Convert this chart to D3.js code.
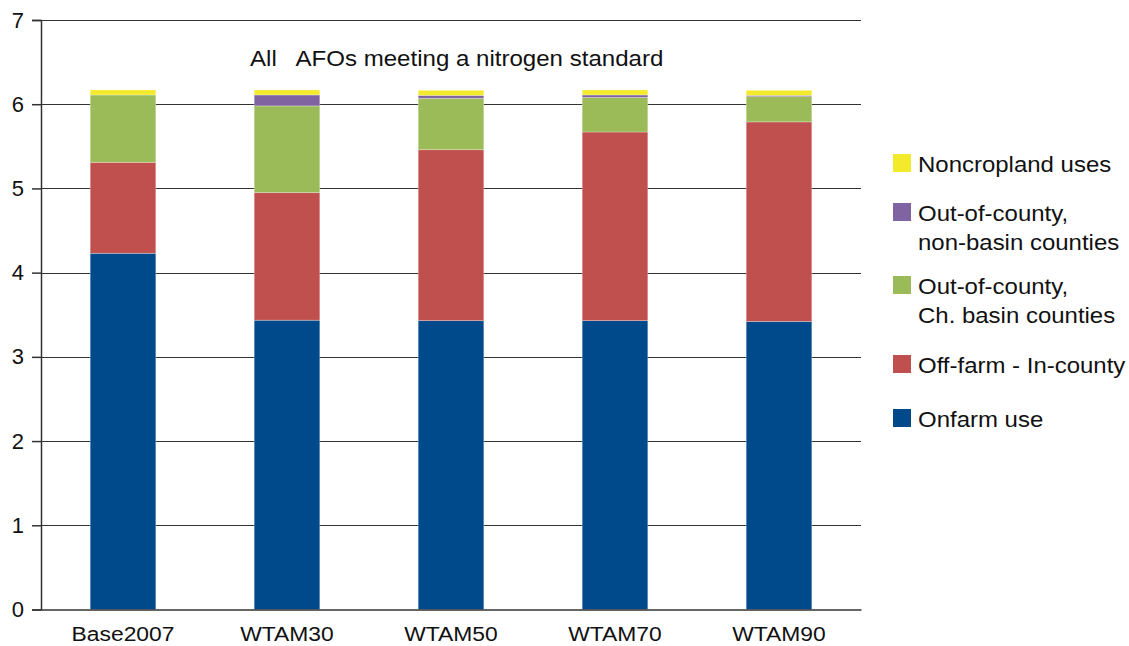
<!DOCTYPE html>
<html><head><meta charset="utf-8">
<script src="https://cdn.jsdelivr.net/npm/d3@7"></script>
<style>body{margin:0;background:#fff}svg{display:block;font-family:"Liberation Sans",Arial,Helvetica,sans-serif}</style>
</head><body><svg id="c" width="1129" height="646"></svg>
<script>
const categories = ["Base2007","WTAM30","WTAM50","WTAM70","WTAM90"];
const seriesNames = ["Onfarm use","Off-farm - In-county","Out-of-county, Ch. basin counties","Out-of-county, non-basin counties","Noncropland uses"];
const onfarm    = [4.23, 3.435, 3.43, 3.43, 3.42];
const offfarm   = [1.08, 1.515, 2.03, 2.24, 2.37];
const chBasin   = [0.80, 1.03, 0.61, 0.41, 0.30];
const nonBasin  = [0.00, 0.13, 0.035, 0.03, 0.015];
const noncrop   = [0.06, 0.06, 0.06, 0.06, 0.06];
const yTicks = [0,1,2,3,4,5,6,7];
const title = "All   AFOs meeting a nitrogen standard";
const colors = ["#004a8c","#c0504d","#9bbb59","#8064a2","#f3ea2b"];
const legendLines = [["Noncropland uses"],["Out-of-county,","non-basin counties"],["Out-of-county,","Ch. basin counties"],["Off-farm - In-county"],["Onfarm use"]];

const svg = d3.select("#c");
const x0 = 41, x1 = 861, yTop = 20, yBot = 609.5;
const x = d3.scaleBand().domain(categories).range([x0,x1]).paddingInner(0.6).paddingOuter(0.3);
const y = d3.scaleLinear().domain([0,7]).range([yBot,yTop]);

const rows = categories.map((c,i)=>({cat:c, s0:onfarm[i], s1:offfarm[i], s2:chBasin[i], s3:nonBasin[i], s4:noncrop[i]}));
const stack = d3.stack().keys(["s0","s1","s2","s3","s4"])(rows);

function stext(g, tx, ty, txt, size, sx, anchor){
  return g.append("text").attr("transform",`translate(${tx},${ty}) scale(${sx},1)`)
    .attr("font-size",size).attr("fill","#111").attr("text-anchor",anchor||"start")
    .style("white-space","pre").text(txt);
}

// gridlines
svg.append("g").selectAll("line").data(yTicks.filter(d=>d>0)).join("line")
  .attr("x1",x0).attr("x2",x1).attr("y1",d=>Math.round(y(d))+0.5).attr("y2",d=>Math.round(y(d))+0.5)
  .attr("stroke","#333").attr("stroke-width",1);

// bars
svg.append("g").selectAll("g").data(stack).join("g").attr("fill",(d,i)=>colors[i])
  .selectAll("rect").data(d=>d).join("rect")
  .attr("x",d=>x(d.data.cat)).attr("width",x.bandwidth())
  .attr("y",d=>y(d[1])).attr("height",d=>Math.max(0,y(d[0])-y(d[1])))
  .attr("stroke","rgba(255,255,255,0.35)").attr("stroke-width",0.8);

// y axis
const ya = svg.append("g").attr("transform",`translate(${x0},0)`)
  .call(d3.axisLeft(y).tickValues(yTicks).tickSize(9).tickPadding(8).tickFormat(d3.format("d")));
ya.select(".domain").attr("stroke","#333").attr("stroke-width",1.5);
ya.selectAll(".tick line").attr("stroke","#333").attr("stroke-width",1.5);
ya.selectAll("text").attr("font-size",22).attr("fill","#111").attr("font-family","Liberation Sans, Arial, sans-serif");

// x axis
const xa = svg.append("g").attr("transform",`translate(0,${yBot})`)
  .call(d3.axisBottom(x).tickSize(0).tickFormat(""));
xa.select(".domain").attr("stroke","#333").attr("stroke-width",1.5);
categories.forEach(c=>stext(svg, x(c)+x.bandwidth()/2, 640.5, c, 21, 1.09, "middle"));

// title
stext(svg, 250, 66, title, 21.5, 1.12, "start");

// legend
const legTops = [154,203,276,355,409];
const lg = svg.append("g");
legendLines.forEach((lines,i)=>{
  const ci = 4-i;
  lg.append("rect").attr("x",893).attr("y",legTops[i]).attr("width",18).attr("height",18).attr("fill",colors[ci]);
  lines.forEach((t,j)=>stext(lg, 918, legTops[i]+17.5+j*29, t, 22, 1.09, "start"));
});
</script></body></html>
